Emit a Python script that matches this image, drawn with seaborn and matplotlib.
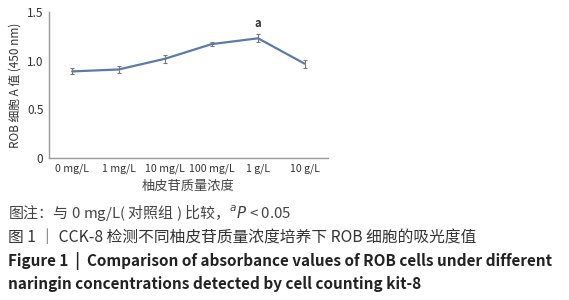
import matplotlib
matplotlib.use("Agg")
import matplotlib.pyplot as plt
import seaborn as sns
import pandas as pd

concentrations = ["0 mg/L", "1 mg/L", "10 mg/L", "100 mg/L", "1 g/L", "10 g/L"]
absorbance = [0.89, 0.91, 1.02, 1.17, 1.23, 0.97]
sd = [0.03, 0.04, 0.04, 0.02, 0.04, 0.04]
marks = ["", "", "", "", "a", ""]

sns.set_style("white")
plt.rcParams["font.family"] = ["Noto Sans CJK SC", "DejaVu Sans"]

df = pd.DataFrame({"conc": concentrations, "A": absorbance, "sd": sd})
df["pos"] = range(len(df))

fig = plt.figure(figsize=(5.69, 3.0), dpi=100)
ax = fig.add_axes([0.086, 0.473, 0.49, 0.487])

line_color = "#5a7bab"
sns.lineplot(data=df, x="pos", y="A", ax=ax, color=line_color, linewidth=1.6)
ax.errorbar(df["pos"], df["A"], yerr=df["sd"], fmt="none", ecolor="#777777",
            elinewidth=0.8, capsize=1.5, capthick=0.8)
for x, y, e, m in zip(df["pos"], df["A"], df["sd"], marks):
    if m:
        ax.text(x, y + e + 0.05, m, ha="center", va="bottom", fontsize=8,
                color="#333333", fontweight="bold")

ax.set_xlim(-0.5, len(concentrations) - 0.5)
ax.set_ylim(0, 1.5)
ax.set_yticks([0, 0.5, 1.0, 1.5])
ax.set_yticklabels(["0", "0.5", "1.0", "1.5"])
ax.set_xticks(range(len(concentrations)))
ax.set_xticklabels(concentrations)
ax.set_xticks([i + 0.5 for i in range(len(concentrations))], minor=True)
ax.tick_params(axis="x", which="major", length=0, labelsize=7.6, colors="#333333", pad=4)
ax.tick_params(axis="x", which="minor", length=3, color="#999999", direction="out")
ax.tick_params(axis="y", length=3, labelsize=8.5, colors="#333333", direction="out", pad=1)
ax.tick_params(axis="y", color="#999999")
for s in ["top", "right"]:
    ax.spines[s].set_visible(False)
for s in ["left", "bottom"]:
    ax.spines[s].set_color("#999999")
    ax.spines[s].set_linewidth(1.0)
ax.set_xlabel("柚皮苷质量浓度", fontsize=9.5, color="#444444", labelpad=4)
ax.set_ylabel("ROB 细胞 A 值 (450 nm)", fontsize=8.5, color="#333333", labelpad=4)

fig.text(0.014, 0.293, "图注：与 0 mg/L( 对照组 ) 比较，$^{a}$$\\it{P}$ < 0.05",
         fontsize=10.8, color="#444444", va="center")
fig.text(0.014, 0.21, "图 1 ｜ CCK-8 检测不同柚皮苷质量浓度培养下 ROB 细胞的吸光度值",
         fontsize=11.3, color="#333333", va="center")
fig.text(0.014, 0.13, "Figure 1  |  Comparison of absorbance values of ROB cells under different",
         fontsize=11, color="#222222", va="center", fontweight="bold")
fig.text(0.014, 0.053, "naringin concentrations detected by cell counting kit-8",
         fontsize=11, color="#222222", va="center", fontweight="bold")

fig.savefig("out.png", dpi=100)
